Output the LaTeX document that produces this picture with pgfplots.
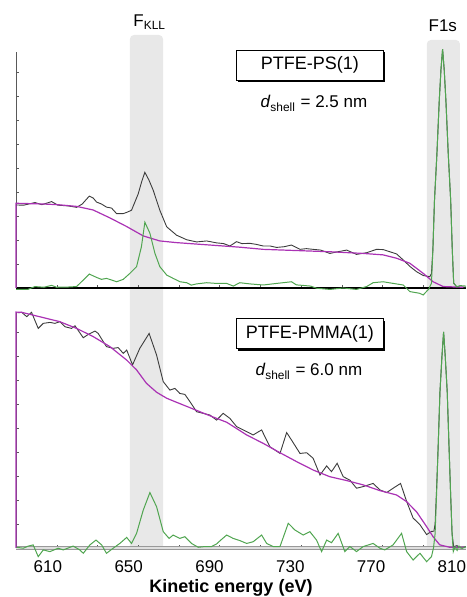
\documentclass[border=0pt]{standalone}
\usepackage{fontspec}
\setmainfont{Liberation Sans}
\usepackage{pgfplots}
\pgfplotsset{compat=1.18}
\usetikzlibrary{shadows}
\definecolor{spec}{RGB}{60,60,60}
\definecolor{bkg}{RGB}{170,50,180}
\definecolor{diff}{RGB}{80,165,80}
\definecolor{band}{RGB}{232,232,232}

\pgfplotsset{
  panel/.style={
    scale only axis, width=224.9pt,
    xmin=594.2, xmax=816.9, ymin=0,
    clip=false,
    axis x line*=bottom, axis y line*=left,
    tick align=inside, major tick length=1.5pt,
    ytick={1,...,9}, yticklabels={},
    xtick={614.5,634.3,654.6,674.9,695.1,715.4,735.7,756.0,775.8,796.1},
    xticklabels={},
    y axis line style={gray!70!black, line width=0.4pt},
    tick style={gray!70!black, line width=0.4pt},
    ticklabel style={font=\fontsize{8.5}{10}\selectfont},
    xticklabel style={yshift=-2.7pt},
    /pgf/number format/assume math mode=true,
  },
}
\tikzset{
  lbl/.style={draw=black, line width=0.5pt, fill=white,
    minimum width=73.5pt, minimum height=15pt, inner sep=0pt,
    font=\fontsize{9}{10}\selectfont,
    drop shadow={shadow xshift=1pt, shadow yshift=-1pt, opacity=1, fill=black}},
}

\begin{document}
\begin{tikzpicture}
\useasboundingbox (-8pt,-24.5pt) rectangle (225pt,274pt);
% shaded regions behind both panels: F KLL (650.6-667 eV) and F1s (797.6-814 eV)
\fill[band] (56.96pt,0pt) [rounded corners=2pt] -- (56.96pt,256.5pt) -- (73.52pt,256.5pt) [sharp corners] -- (73.52pt,0pt) -- cycle;
\fill[band] (205.41pt,0pt) [rounded corners=2pt] -- (205.41pt,254pt) -- (221.97pt,254pt) [sharp corners] -- (221.97pt,0pt) -- cycle;

% lower panel: PTFE-PMMA(1)
\begin{axis}[panel, at={(0,0)}, anchor=south west, height=117.96pt, ymax=9.83,
  x axis line style={draw=gray!80, double=gray!25, double distance=0.8pt, line width=0.4pt},
  extra x ticks={610,650,690,730,770,810},
  extra x tick labels={610,650,690,730,770,810},
  extra x tick style={major tick length=0pt},
]
% measured spectrum
\addplot[spec, line width=0.45pt] coordinates {
(595,9.8) (597,9.82) (599.5,9.64) (601.9,9.82) (605.2,9.15) (607.7,9.36) (611,9.40)
(613.5,9.36) (615.9,9.43) (618.4,9.22) (621.7,9.15) (623.4,9.26) (627.5,8.76) (630,8.90)
(633.3,9.04) (634.9,8.94) (637.4,8.6) (639,8.39) (642.3,8.32) (644.8,8.35) (647.3,8.11)
(649,8.25) (651.9,7.63) (655.5,8.32) (660.1,8.94) (663.8,8.04) (667.1,6.93) (670.4,6.58)
(672.9,6.65) (675.3,6.44) (677.8,6.40) (680.3,6.10) (683.6,5.68) (686.9,5.61) (690.2,5.54)
(693.5,5.33) (696.8,5.61) (700.1,5.40) (703.4,5.06) (708.4,4.85) (711.6,4.71) (715.8,4.92)
(719.9,4.22) (724.9,3.94) (728.2,4.81) (730.6,4.5) (734.8,3.94) (738.1,3.97) (741.3,3.74)
(744.7,3.04) (748,3.42) (750.4,3.18) (753.2,3.53) (756.2,2.97) (759.5,2.83) (762.8,2.49)
(766.1,2.56) (771,2.69) (774.4,2.42) (777.7,2.31) (780.9,2.49) (784.6,2.69) (787.6,1.94)
(790.8,1.25) (794.2,0.97) (797.5,0.56) (799.9,0.69) (801.1,0.7) (801.7,1.0) (802.4,2.4)
(803.2,4.2) (804.1,6.5) (805.1,8.0) (805.9,9.0) (806.7,8.0) (807.7,6.5) (808.6,4.2)
(809.4,2.2) (810.1,0.6) (810.9,0.05) (812.5,0.1) (814,0.0) (816.9,0.05)
};
% background
\addplot[bkg, line width=0.6pt] coordinates {
(594.2,0) (594.2,9.83) (597,9.82) (607.7,9.60) (615.9,9.43) (624.2,9.15) (632.4,8.81)
(640.7,8.39) (649,7.83) (653.9,7.42) (658.8,6.86) (663.8,6.49) (668.8,6.24) (673.7,6.07)
(682,5.79) (690.2,5.51) (698.5,5.24) (703,5.0) (708.4,4.71) (716.6,4.36) (724.9,3.97)
(733.1,3.60) (741.3,3.25) (749.6,2.97) (757.9,2.81) (766.1,2.63) (774.4,2.39) (782.6,2.21)
(787.6,1.93) (792.5,1.51) (797.5,0.89) (800.7,0.47) (804,0.13) (809,0.03) (816.4,0.03)
};
% difference
\addplot[diff, line width=0.5pt] coordinates {
(594.5,0.03) (597.8,-0.01) (600.3,0.08) (602.7,0.13) (605.2,-0.36) (607.7,-0.08) (611,-0.15)
(615.1,-0.01) (617.6,-0.08) (622.5,0.08) (625.8,-0.08) (627.5,-0.22) (630.8,0.13) (633.8,0.33)
(636.6,0.13) (639,-0.22) (642.3,-0.01) (645.6,0.19) (649,0.44) (651.4,0.19) (653.9,0.61)
(657.2,1.58) (660.5,2.31) (663.8,1.72) (667.1,0.68) (670,0.40) (672,0.54) (675.3,0.40)
(677.8,0.47) (681.1,0.19) (684.4,0.03) (687.7,0.06) (691,0.06) (693.5,0.17) (696,0.36)
(698.5,0.54) (701.7,0.40) (705,0.31) (708.4,0.19) (711.6,0.26) (715.8,0.54) (718.3,0.19)
(721.5,0.06) (724.9,0.06) (729,1.03) (732.3,0.75) (736.4,0.54) (739.7,0.68) (743,0.33)
(745.5,-0.15) (748,0.33) (750.4,0.22) (753.7,0.61) (757,-0.15) (759.5,0.06) (762.8,-0.15)
(766.1,0.06) (771,0.19) (774.4,-0.01) (776.8,-0.08) (780.9,0.13) (785.1,0.61) (787.6,-0.15)
(790.8,-0.5) (794.2,-0.22) (797.5,-0.57) (799.9,-0.36) (800.9,0.0) (801.7,0.6) (802.4,2.2)
(803.2,4.2) (804.1,6.5) (805.1,8.0) (805.9,9.0) (806.7,8.0) (807.7,6.5) (808.6,4.2)
(809.4,2.2) (810.1,0.6) (810.7,-0.15) (811.6,0.05) (812.6,-0.1) (813.5,0.08) (815,-0.02)
(816.9,0.05)
};
\node[lbl] at (axis cs:739.7,8.92) {PTFE-PMMA(1)};
\node[anchor=base, font=\fontsize{8.5}{10}\selectfont] at (axis cs:739.2,7.17)
  {\textit{d}\textsubscript{shell} = 6.0 nm};
\end{axis}

% upper panel: PTFE-PS(1)
\begin{axis}[panel, at={(0,130pt)}, anchor=south west, height=118.2pt, ymax=9.85,
  x axis line style={black, line width=1pt},
]
\addplot[spec, line width=0.45pt] coordinates {
(594.2,3.46) (598,3.45) (603.6,3.56) (607,3.47) (611.8,3.6) (615,3.45) (620,3.42)
(624.2,3.36) (627,3.5) (630.5,3.83) (632.4,3.75) (634.1,3.58) (636.5,3.5) (639,3.37)
(641.5,3.33) (644,3.1) (647.3,3.1) (649,3.15) (651.4,3.24) (654.7,3.92) (656.5,4.45)
(658,4.82) (660,4.5) (662.1,4.08) (665.4,3.24) (668.8,2.55) (673.7,2.2) (678.7,2.01)
(683.6,1.92) (688.6,1.96) (693.5,1.88) (697,1.85) (700.1,1.75) (703.4,1.93) (706,1.85)
(710,1.86) (713,1.82) (716.6,1.75) (720,1.75) (723.2,1.69) (727,1.72) (730.6,1.79)
(734.8,1.61) (738,1.64) (741.3,1.61) (745,1.58) (749.6,1.44) (753,1.5) (757.9,1.58)
(762.8,1.4) (767.8,1.47) (772.7,1.61) (776,1.6) (779.3,1.51) (782.6,1.42) (785.9,1.17)
(789.2,0.9) (792.5,0.68) (795.8,0.52) (799.1,0.47) (799.9,0.6) (800.6,1.6) (801.4,3.67)
(802.6,5.6) (803.75,7.8) (804.6,9.1) (805.4,9.95) (806.2,9.1) (807.05,7.8) (808.2,5.6)
(809.4,3.67) (810.2,1.6) (810.9,0.2) (812.4,0.05) (816.9,0.03)
};
\addplot[bkg, line width=0.6pt] coordinates {
(594.2,0) (594.2,3.53) (607.7,3.50) (615,3.47) (624.2,3.40) (632.4,3.25) (640.7,2.92)
(649,2.56) (657.2,2.17) (665.4,1.96) (673.7,1.89) (690.2,1.79) (705,1.70) (716.6,1.61)
(733.1,1.56) (749.6,1.51) (766.1,1.44) (776,1.38) (782.6,1.24) (789.2,1.03) (795.8,0.61)
(800.7,0.26) (805.7,0.06) (815.7,0.03)
};
\addplot[diff, line width=0.5pt] coordinates {
(594.2,-0.06) (600,-0.06) (603.6,0.06) (608,0.03) (611.8,0.11) (614.3,0.03) (620,0.04)
(624.2,0.06) (627.5,0.33) (630.5,0.58) (634.1,0.44) (636.5,0.36) (639,0.4) (642.3,0.31)
(644,0.26) (647.3,0.36) (650.6,0.61) (653.9,0.89) (656.3,1.72) (658,2.74) (660.5,2.28)
(663,1.44) (665.4,0.89) (668.8,0.54) (672,0.4) (675.4,0.26) (678.7,0.22) (681,0.12)
(683.6,0.17) (688.6,0.22) (693.5,0.19) (698.5,0.19) (701.8,0.08) (705,0.22) (710,0.17)
(716.6,0.125) (723.2,0.19) (730.6,0.26) (733,0.13) (740,0.08) (743,-0.01) (749.6,-0.06)
(756.2,0) (762.8,-0.06) (767.8,0.06) (771,0.22) (776,0.26) (781,0.19) (785.9,0.125)
(789.2,-0.15) (794,-0.22) (795.8,-0.29) (798.5,-0.05) (799.9,0.2) (800.6,1.6) (801.4,3.67)
(802.6,5.6) (803.75,7.8) (804.6,9.1) (805.4,9.95) (806.2,9.1) (807.05,7.8) (808.2,5.6)
(809.4,3.67) (810.2,1.6) (810.9,0.2) (812.4,0.05) (814,0.1) (816.9,0.08)
};
\node[lbl] at (axis cs:739.7,9.29) {PTFE-PS(1)};
\node[anchor=base, font=\fontsize{8.5}{10}\selectfont] at (axis cs:741.7,7.5)
  {\textit{d}\textsubscript{shell} = 2.5 nm};
\node[anchor=base, font=\fontsize{8.5}{10}\selectfont] at (axis cs:660.4,10.875) {F\textsubscript{KLL}};
\node[anchor=base, font=\fontsize{8.5}{10}\selectfont] at (axis cs:805.5,10.67) {F1s};
\end{axis}

\node[anchor=base, font=\bfseries\fontsize{9}{10}\selectfont] at (107.5pt,-22.5pt) {Kinetic energy (eV)};
\end{tikzpicture}
\end{document}
